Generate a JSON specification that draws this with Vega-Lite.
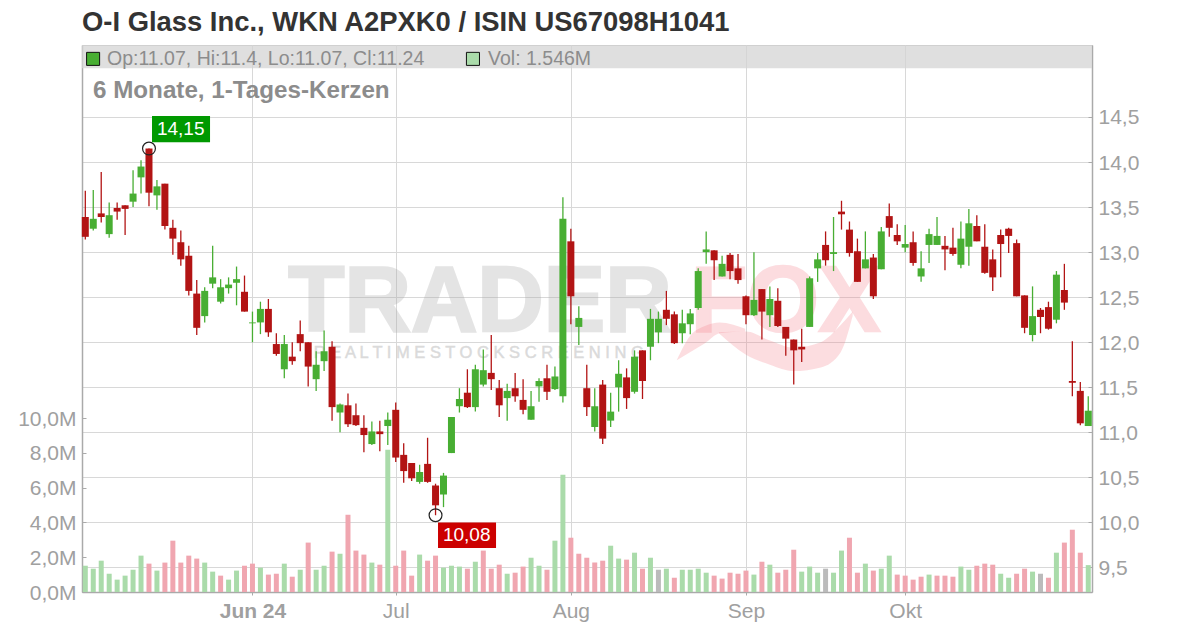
{"$schema":"https://vega.github.io/schema/vega-lite/v6.json","width":1010,"height":547,"autosize":{"type":"none"},"padding":{"left":82,"top":45,"right":108,"bottom":36},"background":"white",
"title":{"text":"O-I Glass Inc., WKN A2PXK0 / ISIN US67098H1041","anchor":"start","frame":"group","offset":9,"fontSize":27.4,"font":"Liberation Sans","fontWeight":"bold","color":"#333333"},
"config":{"view":{"stroke":"#c4c4c4"},"font":"Liberation Sans"},
"datasets":{"candles":[
{"i":0,"open":13.39,"high":13.68,"low":13.14,"close":13.17,"vol":1.51,"dir":"down","vdir":"up"},
{"i":1,"open":13.26,"high":13.69,"low":13.24,"close":13.37,"vol":1.34,"dir":"up","vdir":"up"},
{"i":2,"open":13.43,"high":13.89,"low":13.33,"close":13.39,"vol":1.80,"dir":"down","vdir":"up"},
{"i":3,"open":13.20,"high":13.55,"low":13.16,"close":13.41,"vol":1.05,"dir":"up","vdir":"up"},
{"i":4,"open":13.49,"high":13.55,"low":13.36,"close":13.45,"vol":0.71,"dir":"down","vdir":"up"},
{"i":5,"open":13.52,"high":13.52,"low":13.19,"close":13.48,"vol":0.94,"dir":"down","vdir":"up"},
{"i":6,"open":13.56,"high":13.91,"low":13.50,"close":13.65,"vol":1.28,"dir":"up","vdir":"up"},
{"i":7,"open":13.83,"high":14.02,"low":13.65,"close":13.95,"vol":2.09,"dir":"up","vdir":"up"},
{"i":8,"open":14.15,"high":14.15,"low":13.51,"close":13.66,"vol":1.63,"dir":"down","vdir":"down"},
{"i":9,"open":13.63,"high":13.80,"low":13.47,"close":13.73,"vol":1.23,"dir":"up","vdir":"up"},
{"i":10,"open":13.76,"high":13.76,"low":13.25,"close":13.29,"vol":1.69,"dir":"down","vdir":"down"},
{"i":11,"open":13.27,"high":13.36,"low":12.97,"close":13.15,"vol":2.95,"dir":"down","vdir":"down"},
{"i":12,"open":13.11,"high":13.24,"low":12.85,"close":12.92,"vol":1.69,"dir":"down","vdir":"down"},
{"i":13,"open":12.96,"high":13.07,"low":12.52,"close":12.57,"vol":2.09,"dir":"down","vdir":"down"},
{"i":14,"open":12.54,"high":12.69,"low":12.08,"close":12.16,"vol":1.92,"dir":"down","vdir":"down"},
{"i":15,"open":12.29,"high":12.61,"low":12.22,"close":12.57,"vol":1.69,"dir":"up","vdir":"up"},
{"i":16,"open":12.65,"high":13.07,"low":12.60,"close":12.72,"vol":1.17,"dir":"up","vdir":"up"},
{"i":17,"open":12.45,"high":12.70,"low":12.43,"close":12.61,"vol":0.94,"dir":"up","vdir":"down"},
{"i":18,"open":12.60,"high":12.72,"low":12.54,"close":12.64,"vol":0.71,"dir":"up","vdir":"up"},
{"i":19,"open":12.66,"high":12.84,"low":12.41,"close":12.70,"vol":1.23,"dir":"up","vdir":"up"},
{"i":20,"open":12.56,"high":12.74,"low":12.34,"close":12.34,"vol":1.51,"dir":"down","vdir":"down"},
{"i":21,"open":12.21,"high":12.34,"low":12.00,"close":12.22,"vol":1.63,"dir":"up","vdir":"down"},
{"i":22,"open":12.22,"high":12.45,"low":12.09,"close":12.37,"vol":1.40,"dir":"up","vdir":"up"},
{"i":23,"open":12.37,"high":12.48,"low":12.06,"close":12.11,"vol":1.00,"dir":"down","vdir":"down"},
{"i":24,"open":11.98,"high":12.10,"low":11.85,"close":11.87,"vol":1.05,"dir":"down","vdir":"down"},
{"i":25,"open":11.70,"high":12.08,"low":11.60,"close":11.98,"vol":1.63,"dir":"up","vdir":"up"},
{"i":26,"open":11.84,"high":12.00,"low":11.75,"close":11.79,"vol":0.88,"dir":"down","vdir":"down"},
{"i":27,"open":12.09,"high":12.24,"low":11.90,"close":11.99,"vol":1.28,"dir":"down","vdir":"up"},
{"i":28,"open":12.00,"high":12.00,"low":11.51,"close":11.73,"vol":2.84,"dir":"down","vdir":"down"},
{"i":29,"open":11.59,"high":11.90,"low":11.46,"close":11.75,"vol":1.28,"dir":"up","vdir":"up"},
{"i":30,"open":11.79,"high":12.13,"low":11.68,"close":11.90,"vol":1.51,"dir":"up","vdir":"up"},
{"i":31,"open":11.95,"high":12.01,"low":11.13,"close":11.28,"vol":2.32,"dir":"down","vdir":"down"},
{"i":32,"open":11.22,"high":11.32,"low":11.00,"close":11.31,"vol":2.20,"dir":"up","vdir":"up"},
{"i":33,"open":11.30,"high":11.43,"low":11.06,"close":11.09,"vol":4.44,"dir":"down","vdir":"down"},
{"i":34,"open":11.19,"high":11.32,"low":11.07,"close":11.08,"vol":2.38,"dir":"down","vdir":"down"},
{"i":35,"open":11.05,"high":11.19,"low":10.78,"close":10.97,"vol":2.15,"dir":"down","vdir":"down"},
{"i":36,"open":10.87,"high":11.12,"low":10.86,"close":11.01,"vol":1.69,"dir":"up","vdir":"up"},
{"i":37,"open":11.01,"high":11.13,"low":10.79,"close":10.98,"vol":1.57,"dir":"down","vdir":"down"},
{"i":38,"open":11.07,"high":11.22,"low":10.86,"close":11.14,"vol":8.18,"dir":"up","vdir":"up"},
{"i":39,"open":11.25,"high":11.33,"low":10.67,"close":10.72,"vol":1.51,"dir":"down","vdir":"down"},
{"i":40,"open":10.75,"high":10.88,"low":10.44,"close":10.57,"vol":2.38,"dir":"down","vdir":"down"},
{"i":41,"open":10.66,"high":10.66,"low":10.46,"close":10.49,"vol":0.94,"dir":"down","vdir":"down"},
{"i":42,"open":10.45,"high":10.64,"low":10.43,"close":10.56,"vol":2.15,"dir":"up","vdir":"up"},
{"i":43,"open":10.65,"high":10.94,"low":10.44,"close":10.45,"vol":1.80,"dir":"down","vdir":"down"},
{"i":44,"open":10.41,"high":10.43,"low":10.08,"close":10.19,"vol":2.09,"dir":"down","vdir":"down"},
{"i":45,"open":10.31,"high":10.55,"low":10.17,"close":10.52,"vol":1.40,"dir":"up","vdir":"up"},
{"i":46,"open":10.77,"high":11.17,"low":10.77,"close":11.17,"vol":1.51,"dir":"up","vdir":"up"},
{"i":47,"open":11.29,"high":11.49,"low":11.22,"close":11.37,"vol":1.46,"dir":"up","vdir":"up"},
{"i":48,"open":11.44,"high":11.70,"low":11.27,"close":11.28,"vol":1.34,"dir":"down","vdir":"down"},
{"i":49,"open":11.28,"high":11.75,"low":11.23,"close":11.70,"vol":1.74,"dir":"up","vdir":"up"},
{"i":50,"open":11.53,"high":11.92,"low":11.51,"close":11.69,"vol":2.38,"dir":"up","vdir":"down"},
{"i":51,"open":11.66,"high":12.08,"low":11.47,"close":11.59,"vol":1.34,"dir":"down","vdir":"down"},
{"i":52,"open":11.49,"high":11.58,"low":11.17,"close":11.30,"vol":1.57,"dir":"down","vdir":"down"},
{"i":53,"open":11.38,"high":11.54,"low":11.13,"close":11.46,"vol":1.05,"dir":"up","vdir":"up"},
{"i":54,"open":11.49,"high":11.66,"low":11.34,"close":11.40,"vol":1.11,"dir":"down","vdir":"down"},
{"i":55,"open":11.36,"high":11.59,"low":11.20,"close":11.25,"vol":1.46,"dir":"down","vdir":"down"},
{"i":56,"open":11.14,"high":11.46,"low":11.14,"close":11.29,"vol":1.97,"dir":"up","vdir":"up"},
{"i":57,"open":11.51,"high":11.60,"low":11.34,"close":11.57,"vol":1.51,"dir":"up","vdir":"up"},
{"i":58,"open":11.60,"high":11.75,"low":11.36,"close":11.45,"vol":1.28,"dir":"down","vdir":"down"},
{"i":59,"open":11.48,"high":11.73,"low":11.47,"close":11.62,"vol":2.95,"dir":"up","vdir":"up"},
{"i":60,"open":11.40,"high":13.61,"low":11.33,"close":13.37,"vol":6.74,"dir":"up","vdir":"up"},
{"i":61,"open":13.12,"high":13.26,"low":12.20,"close":12.51,"vol":3.12,"dir":"down","vdir":"down"},
{"i":62,"open":12.17,"high":12.40,"low":11.97,"close":12.27,"vol":2.20,"dir":"up","vdir":"down"},
{"i":63,"open":11.49,"high":11.75,"low":11.18,"close":11.28,"vol":1.97,"dir":"down","vdir":"down"},
{"i":64,"open":11.06,"high":11.49,"low":11.01,"close":11.29,"vol":1.69,"dir":"up","vdir":"down"},
{"i":65,"open":11.53,"high":11.58,"low":10.87,"close":10.93,"vol":1.80,"dir":"down","vdir":"down"},
{"i":66,"open":11.13,"high":11.44,"low":11.06,"close":11.23,"vol":2.66,"dir":"up","vdir":"up"},
{"i":67,"open":11.50,"high":11.80,"low":11.23,"close":11.65,"vol":1.92,"dir":"up","vdir":"up"},
{"i":68,"open":11.61,"high":11.71,"low":11.26,"close":11.38,"vol":1.86,"dir":"down","vdir":"down"},
{"i":69,"open":11.45,"high":11.91,"low":11.43,"close":11.84,"vol":2.26,"dir":"up","vdir":"up"},
{"i":70,"open":11.91,"high":11.91,"low":11.37,"close":11.57,"vol":1.34,"dir":"down","vdir":"down"},
{"i":71,"open":11.95,"high":12.37,"low":11.80,"close":12.26,"vol":1.97,"dir":"up","vdir":"up"},
{"i":72,"open":12.11,"high":12.34,"low":11.99,"close":12.26,"vol":1.28,"dir":"up","vdir":"flat"},
{"i":73,"open":12.36,"high":12.57,"low":12.19,"close":12.26,"vol":1.34,"dir":"down","vdir":"up"},
{"i":74,"open":12.31,"high":12.34,"low":11.98,"close":11.99,"vol":0.82,"dir":"down","vdir":"down"},
{"i":75,"open":12.10,"high":12.36,"low":11.99,"close":12.21,"vol":1.28,"dir":"up","vdir":"up"},
{"i":76,"open":12.20,"high":12.37,"low":12.09,"close":12.32,"vol":1.28,"dir":"up","vdir":"up"},
{"i":77,"open":12.38,"high":12.82,"low":12.36,"close":12.79,"vol":1.34,"dir":"up","vdir":"up"},
{"i":78,"open":13.00,"high":13.23,"low":12.87,"close":13.03,"vol":1.11,"dir":"up","vdir":"up"},
{"i":79,"open":13.02,"high":13.02,"low":12.69,"close":12.91,"vol":0.94,"dir":"down","vdir":"down"},
{"i":80,"open":12.73,"high":12.96,"low":12.73,"close":12.87,"vol":0.77,"dir":"up","vdir":"down"},
{"i":81,"open":12.97,"high":12.99,"low":12.70,"close":12.79,"vol":1.11,"dir":"down","vdir":"down"},
{"i":82,"open":12.82,"high":12.98,"low":12.65,"close":12.69,"vol":1.05,"dir":"down","vdir":"down"},
{"i":83,"open":12.51,"high":12.52,"low":12.20,"close":12.30,"vol":1.23,"dir":"down","vdir":"down"},
{"i":84,"open":12.30,"high":13.00,"low":12.29,"close":12.47,"vol":1.00,"dir":"up","vdir":"up"},
{"i":85,"open":12.59,"high":12.59,"low":12.03,"close":12.34,"vol":1.74,"dir":"down","vdir":"down"},
{"i":86,"open":12.30,"high":12.62,"low":12.17,"close":12.48,"vol":1.57,"dir":"up","vdir":"up"},
{"i":87,"open":12.46,"high":12.60,"low":12.17,"close":12.18,"vol":1.11,"dir":"down","vdir":"down"},
{"i":88,"open":12.17,"high":12.17,"low":11.85,"close":12.04,"vol":1.28,"dir":"down","vdir":"down"},
{"i":89,"open":12.03,"high":12.03,"low":11.53,"close":11.91,"vol":2.43,"dir":"down","vdir":"down"},
{"i":90,"open":11.95,"high":12.15,"low":11.78,"close":11.92,"vol":1.17,"dir":"down","vdir":"up"},
{"i":91,"open":12.17,"high":12.73,"low":12.17,"close":12.71,"vol":1.46,"dir":"up","vdir":"up"},
{"i":92,"open":12.82,"high":12.99,"low":12.67,"close":12.92,"vol":1.11,"dir":"up","vdir":"up"},
{"i":93,"open":13.08,"high":13.23,"low":12.85,"close":12.91,"vol":1.34,"dir":"down","vdir":"flat"},
{"i":94,"open":12.98,"high":13.39,"low":12.79,"close":13.00,"vol":1.11,"dir":"up","vdir":"up"},
{"i":95,"open":13.45,"high":13.57,"low":13.25,"close":13.42,"vol":2.38,"dir":"down","vdir":"up"},
{"i":96,"open":13.25,"high":13.34,"low":12.95,"close":12.99,"vol":3.12,"dir":"down","vdir":"down"},
{"i":97,"open":13.01,"high":13.15,"low":12.67,"close":12.67,"vol":1.11,"dir":"down","vdir":"down"},
{"i":98,"open":12.82,"high":13.23,"low":12.82,"close":12.92,"vol":1.63,"dir":"up","vdir":"up"},
{"i":99,"open":12.94,"high":12.98,"low":12.48,"close":12.51,"vol":1.23,"dir":"down","vdir":"down"},
{"i":100,"open":12.81,"high":13.28,"low":12.81,"close":13.23,"vol":1.34,"dir":"up","vdir":"up"},
{"i":101,"open":13.40,"high":13.54,"low":13.17,"close":13.27,"vol":2.09,"dir":"down","vdir":"up"},
{"i":102,"open":13.19,"high":13.31,"low":13.08,"close":13.12,"vol":1.00,"dir":"down","vdir":"down"},
{"i":103,"open":13.05,"high":13.30,"low":13.00,"close":13.09,"vol":0.94,"dir":"up","vdir":"down"},
{"i":104,"open":13.11,"high":13.23,"low":12.85,"close":12.88,"vol":0.71,"dir":"down","vdir":"down"},
{"i":105,"open":12.73,"high":13.01,"low":12.67,"close":12.82,"vol":0.88,"dir":"up","vdir":"down"},
{"i":106,"open":13.08,"high":13.26,"low":12.88,"close":13.20,"vol":1.00,"dir":"up","vdir":"up"},
{"i":107,"open":13.08,"high":13.39,"low":13.08,"close":13.18,"vol":0.94,"dir":"up","vdir":"down"},
{"i":108,"open":13.07,"high":13.18,"low":12.80,"close":13.03,"vol":0.94,"dir":"down","vdir":"down"},
{"i":109,"open":13.05,"high":13.27,"low":12.96,"close":12.98,"vol":0.88,"dir":"down","vdir":"down"},
{"i":110,"open":12.86,"high":13.34,"low":12.82,"close":13.15,"vol":1.46,"dir":"up","vdir":"up"},
{"i":111,"open":13.06,"high":13.48,"low":12.85,"close":13.32,"vol":1.28,"dir":"up","vdir":"up"},
{"i":112,"open":13.29,"high":13.41,"low":13.12,"close":13.12,"vol":1.51,"dir":"down","vdir":"down"},
{"i":113,"open":13.06,"high":13.31,"low":12.76,"close":12.77,"vol":1.63,"dir":"down","vdir":"down"},
{"i":114,"open":12.92,"high":13.03,"low":12.57,"close":12.72,"vol":1.57,"dir":"down","vdir":"down"},
{"i":115,"open":13.19,"high":13.25,"low":12.72,"close":13.09,"vol":1.05,"dir":"down","vdir":"up"},
{"i":116,"open":13.26,"high":13.27,"low":12.99,"close":13.18,"vol":0.82,"dir":"down","vdir":"up"},
{"i":117,"open":13.10,"high":13.14,"low":12.51,"close":12.51,"vol":1.05,"dir":"down","vdir":"down"},
{"i":118,"open":12.52,"high":12.52,"low":12.10,"close":12.16,"vol":1.34,"dir":"down","vdir":"down"},
{"i":119,"open":12.08,"high":12.62,"low":12.01,"close":12.29,"vol":1.17,"dir":"up","vdir":"up"},
{"i":120,"open":12.36,"high":12.38,"low":12.10,"close":12.28,"vol":1.05,"dir":"down","vdir":"flat"},
{"i":121,"open":12.39,"high":12.45,"low":12.14,"close":12.15,"vol":0.82,"dir":"down","vdir":"down"},
{"i":122,"open":12.25,"high":12.79,"low":12.21,"close":12.75,"vol":2.26,"dir":"up","vdir":"up"},
{"i":123,"open":12.58,"high":12.87,"low":12.36,"close":12.44,"vol":2.84,"dir":"down","vdir":"down"},
{"i":124,"open":11.57,"high":12.01,"low":11.40,"close":11.55,"vol":3.58,"dir":"down","vdir":"down"},
{"i":125,"open":11.46,"high":11.56,"low":11.08,"close":11.10,"vol":2.26,"dir":"down","vdir":"down"},
{"i":126,"open":11.07,"high":11.40,"low":11.07,"close":11.24,"vol":1.546,"dir":"up","vdir":"up"}
],
"swoosh":[
{"part":"a","i":74.3,"p":11.80,"p2":11.80},{"part":"a","i":75.97,"p":12.07,"p2":11.89},{"part":"a","i":77.85,"p":12.18,"p2":11.99},{"part":"a","i":79.7,"p":12.22,"p2":12.10},{"part":"a","i":82.9,"p":12.15,"p2":12.12},
{"part":"b","i":79.6,"p":12.11,"p2":12.10},{"part":"b","i":83.0,"p":12.12,"p2":11.86},{"part":"b","i":86.0,"p":12.02,"p2":11.75},{"part":"b","i":89.0,"p":11.94,"p2":11.68},{"part":"b","i":92.4,"p":12.00,"p2":11.72},{"part":"b","i":94.9,"p":12.19,"p2":11.89},{"part":"b","i":96.4,"p":12.34,"p2":12.29}
]},
"encoding":{"x":{"field":"i","type":"quantitative","title":null,"scale":{"domain":[-0.415,126.47],"nice":false,"zero":false,"padding":0},"axis":{"values":[21,39,61,83,103],"labelExpr":"datum.value==21?'Jun 24':datum.value==39?'Jul':datum.value==61?'Aug':datum.value==83?'Sep':'Okt'","labelFont":"Liberation Sans","labelFontSize":21,"labelColor":"#a0a0a0","labelFontWeight":{"condition":{"test":"datum.value==21","value":"bold"},"value":"normal"},"labelPadding":5,"tickSize":3,"tickColor":"#aaaaaa","domainColor":"#aaaaaa","domainWidth":1.5,"grid":true,"gridColor":"#d8d8d8","gridWidth":1}}},
"resolve":{"scale":{"y":"independent","color":"independent"}},
"layer":[
{"data":{"values":[{"i":-0.415,"i2":126.47,"p":15.299,"p2":15.04}]},"mark":{"type":"rect","fill":"#d4d4d4","opacity":0.75},"encoding":{"x2":{"field":"i2"},"y":{"field":"p","type":"quantitative","axis":null,"scale":{"domain":[9.228,15.299],"nice":false,"zero":false}},"y2":{"field":"p2"}}},
{"data":{"values":[{"i":25.5,"p":12.125,"label":"TRADER"}]},"mark":{"type":"text","align":"left","baseline":"alphabetic","font":"Liberation Sans","fontWeight":"bold","fontSize":92,"fill":"#a8a8a8","stroke":"#a8a8a8","strokeWidth":2.5,"opacity":0.3},"encoding":{"y":{"field":"p","type":"quantitative","axis":null,"scale":{"domain":[9.228,15.299],"nice":false,"zero":false}},"text":{"field":"label"}}},
{"data":{"values":[{"i":76.1,"p":12.125,"label":"FOX"}]},"mark":{"type":"text","align":"left","baseline":"alphabetic","font":"Liberation Sans","fontWeight":"bold","fontSize":92,"fill":"#f47a88","stroke":"#f47a88","strokeWidth":2.5,"opacity":0.26},"encoding":{"y":{"field":"p","type":"quantitative","axis":null,"scale":{"domain":[9.228,15.299],"nice":false,"zero":false}},"text":{"field":"label"}}},
{"data":{"name":"swoosh"},"mark":{"type":"area","interpolate":"monotone","fill":"#f47a88","opacity":0.26},"encoding":{"y":{"field":"p","type":"quantitative","axis":null,"scale":{"domain":[9.228,15.299],"nice":false,"zero":false}},"y2":{"field":"p2"},"detail":{"field":"part"}}},
{"data":{"values":[{"i":28.7,"p":11.88,"label":"R E A L T I M E   S T O C K   S C R E E N I N G"}]},"mark":{"type":"text","align":"left","baseline":"middle","font":"Liberation Sans","fontSize":16.5,"fill":"#a0a0a0","stroke":"#a0a0a0","strokeWidth":0.5,"opacity":0.38},"encoding":{"y":{"field":"p","type":"quantitative","axis":null,"scale":{"domain":[9.228,15.299],"nice":false,"zero":false}},"text":{"field":"label"}}},
{"data":{"name":"candles"},"mark":{"type":"bar","size":5},"encoding":{"y":{"field":"vol","type":"quantitative","title":null,"scale":{"domain":[0,31.44],"nice":false},"axis":{"orient":"left","values":[0,2,4,6,8,10],"labelExpr":"replace(format(datum.value,'.1f'),'.',',')+'M'","labelFont":"Liberation Sans","labelFontSize":21,"labelColor":"#a0a0a0","labelOffset":1,"tickSize":-4,"tickColor":"#aaaaaa","domainColor":"#aaaaaa","domainWidth":1.5,"grid":false,"labelPadding":10}},"color":{"field":"vdir","type":"nominal","legend":null,"scale":{"domain":["up","down","flat"],"range":["#aadbaa","#f0a6b0","#bbbbbb"]}}}},
{"data":{"name":"candles"},"mark":{"type":"rule","strokeWidth":1.3},"encoding":{"y":{"field":"high","type":"quantitative","title":null,"scale":{"domain":[9.228,15.299],"nice":false,"zero":false},"axis":{"orient":"right","values":[9.5,10,10.5,11,11.5,12,12.5,13,13.5,14,14.5],"labelExpr":"replace(format(datum.value,'.1f'),'.',',')","labelFont":"Liberation Sans","labelFontSize":21,"labelColor":"#a0a0a0","labelOffset":1,"tickSize":-4,"tickColor":"#aaaaaa","domainColor":"#aaaaaa","domainWidth":1.5,"grid":true,"gridColor":"#d8d8d8","gridWidth":1,"labelPadding":10}},"y2":{"field":"low"},"color":{"field":"dir","type":"nominal","legend":null,"scale":{"domain":["up","down"],"range":["#48ae33","#b21414"]}}}},
{"data":{"name":"candles"},"mark":{"type":"bar","size":7},"encoding":{"y":{"field":"open","type":"quantitative","axis":null,"scale":{"domain":[9.228,15.299],"nice":false,"zero":false}},"y2":{"field":"close"},"color":{"field":"dir","type":"nominal","legend":null,"scale":{"domain":["up","down"],"range":["#48ae33","#b21414"]}}}},
{"data":{"values":[{"i":8,"p":14.15},{"i":44,"p":10.08}]},"mark":{"type":"point","shape":"circle","filled":false,"size":165,"stroke":"#222222","strokeWidth":1.2,"opacity":1},"encoding":{"y":{"field":"p","type":"quantitative","axis":null,"scale":{"domain":[9.228,15.299],"nice":false,"zero":false}}}},
{"data":{"values":[{"i":8.38,"i2":15.67,"p":14.51,"p2":14.22,"c":"#009900"},{"i":44.31,"i2":51.6,"p":10.0,"p2":9.716,"c":"#cc0000"}]},"mark":{"type":"rect"},"encoding":{"x2":{"field":"i2"},"y":{"field":"p","type":"quantitative","axis":null,"scale":{"domain":[9.228,15.299],"nice":false,"zero":false}},"y2":{"field":"p2"},"fill":{"field":"c","type":"nominal","legend":null,"scale":null}}},
{"data":{"values":[{"i":9.0,"p":14.365,"label":"14,15"},{"i":44.93,"p":9.86,"label":"10,08"}]},"mark":{"type":"text","align":"left","baseline":"middle","font":"Liberation Sans","fontSize":19,"fill":"white"},"encoding":{"y":{"field":"p","type":"quantitative","axis":null,"scale":{"domain":[9.228,15.299],"nice":false,"zero":false}},"text":{"field":"label"}}},
{"data":{"values":[{"i":0.98,"p":15.145,"c":"#48ae33"},{"i":48.7,"p":15.145,"c":"#aadbaa"}]},"mark":{"type":"point","shape":"square","filled":true,"size":170,"stroke":"#111111","strokeWidth":1,"opacity":1},"encoding":{"y":{"field":"p","type":"quantitative","axis":null,"scale":{"domain":[9.228,15.299],"nice":false,"zero":false}},"fill":{"field":"c","type":"nominal","legend":null,"scale":null}}},
{"data":{"values":[{"i":2.73,"p":15.145,"label":"Op:11.07, Hi:11.4, Lo:11.07, Cl:11.24"},{"i":50.6,"p":15.145,"label":"Vol: 1.546M"}]},"mark":{"type":"text","align":"left","baseline":"middle","font":"Liberation Sans","fontSize":19.5,"fill":"#8c8c8c"},"encoding":{"y":{"field":"p","type":"quantitative","axis":null,"scale":{"domain":[9.228,15.299],"nice":false,"zero":false}},"text":{"field":"label"}}},
{"data":{"values":[{"i":0.97,"p":14.79,"label":"6 Monate, 1-Tages-Kerzen"}]},"mark":{"type":"text","align":"left","baseline":"middle","font":"Liberation Sans","fontWeight":"bold","fontSize":24.2,"fill":"#8c8c8c"},"encoding":{"y":{"field":"p","type":"quantitative","axis":null,"scale":{"domain":[9.228,15.299],"nice":false,"zero":false}},"text":{"field":"label"}}}
]}
